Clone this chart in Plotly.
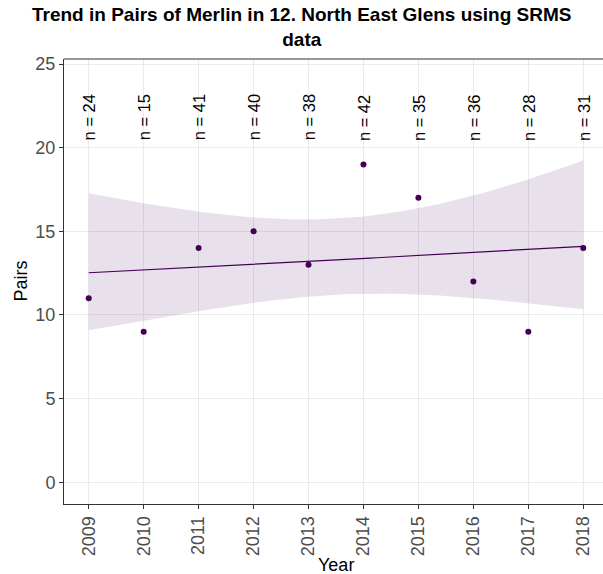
import numpy as np
import plotly.graph_objects as go

years = [2009, 2010, 2011, 2012, 2013, 2014, 2015, 2016, 2017, 2018]
pairs = [11, 9, 14, 15, 13, 19, 17, 12, 9, 14]
n_labels = ["n = 24", "n = 15", "n = 41", "n = 40", "n = 38", "n = 42", "n = 35", "n = 36", "n = 28", "n = 31"]
y_ticks = [0, 5, 10, 15, 20, 25]

PURPLE = "#440154"
FONT = "Liberation Sans, Arial, sans-serif"

# Poisson GLM fit (log link) via IRLS, 95% CI like geom_smooth(method="glm")
x = np.array(years, dtype=float)
y = np.array(pairs, dtype=float)
X = np.column_stack([np.ones_like(x), x - x.mean()])
beta = np.array([np.log(y.mean()), 0.0])
for _ in range(50):
    eta = X @ beta
    mu = np.exp(eta)
    z = eta + (y - mu) / mu
    W = mu
    XtW = X.T * W
    beta = np.linalg.solve(XtW @ X, XtW @ z)
mu = np.exp(X @ beta)
cov = np.linalg.inv((X.T * mu) @ X)
xs = np.linspace(x.min(), x.max(), 80)
Xs = np.column_stack([np.ones_like(xs), xs - x.mean()])
eta_s = Xs @ beta
se = np.sqrt(np.einsum("ij,jk,ik->i", Xs, cov, Xs))
fit = np.exp(eta_s)
lo = np.exp(eta_s - 1.96 * se)
hi = np.exp(eta_s + 1.96 * se)

fig = go.Figure()
fig.add_trace(go.Scatter(x=np.concatenate([xs, xs[::-1]]), y=np.concatenate([hi, lo[::-1]]),
                         fill="toself", fillcolor="rgba(68,1,84,0.12)", line=dict(width=0),
                         mode="lines", hoverinfo="skip", showlegend=False))
fig.add_trace(go.Scatter(x=xs, y=fit, mode="lines", line=dict(color=PURPLE, width=1.2), showlegend=False))
fig.add_trace(go.Scatter(x=years, y=pairs, mode="markers", marker=dict(color=PURPLE, size=6), showlegend=False))

for yr, lab in zip(years, n_labels):
    fig.add_annotation(x=yr, y=20.3, text=lab, textangle=-90, showarrow=False,
                       xanchor="center", yanchor="bottom",
                       font=dict(family=FONT, size=16.5, color="black"))

axis_common = dict(showgrid=True, gridcolor="#EBEBEB", gridwidth=1, zeroline=False,
                   ticks="outside", ticklen=4, tickcolor="#333333", tickwidth=1,
                   showline=True, linecolor="#333333", linewidth=1, automargin=False,
                   tickfont=dict(family=FONT, size=18, color="#4D4D4D"))

# the reference panel runs slightly past the right edge of the picture,
# so the figure is a little wider than the window and gets clipped
W_FIG = 608
PW = W_FIG - 64
fig.update_layout(
    width=W_FIG, height=574,
    margin=dict(l=64, r=0, t=59, b=70),
    paper_bgcolor="white", plot_bgcolor="white",
    xaxis=dict(range=[2008.55, 2018.45], tickvals=years, ticktext=[str(v) for v in years],
               tickangle=-90, **axis_common),
    yaxis=dict(range=[-1.3, 25.3], tickvals=y_ticks, **axis_common),
)
# title
fig.add_annotation(xref="paper", yref="paper", x=(301.5 - 64) / PW, y=1, yshift=57,
                   text="<b>Trend in Pairs of Merlin in 12. North East Glens using SRMS<br>data</b>",
                   showarrow=False, xanchor="center", yanchor="top", align="center",
                   font=dict(family=FONT, size=19, color="black"))
# axis titles
fig.add_annotation(xref="paper", yref="paper", x=(336 - 64) / PW, y=0, yshift=-49,
                   text="Year", showarrow=False, xanchor="center", yanchor="top",
                   font=dict(family=FONT, size=18, color="black"))
fig.add_annotation(xref="paper", yref="paper", x=0, xshift=-32, y=0.5,
                   text="Pairs", showarrow=False, textangle=-90, xanchor="right", yanchor="middle",
                   font=dict(family=FONT, size=18, color="black"))
# top border line of panel
fig.add_shape(type="line", xref="paper", yref="paper", x0=0, x1=1, y0=1, y1=1,
              line=dict(color="#333333", width=1))

fig.write_html("out.html", config={"displayModeBar": False},
               post_script="document.documentElement.style.overflow='hidden';"
                           "document.body.style.margin='0px';document.body.style.overflow='hidden';")
